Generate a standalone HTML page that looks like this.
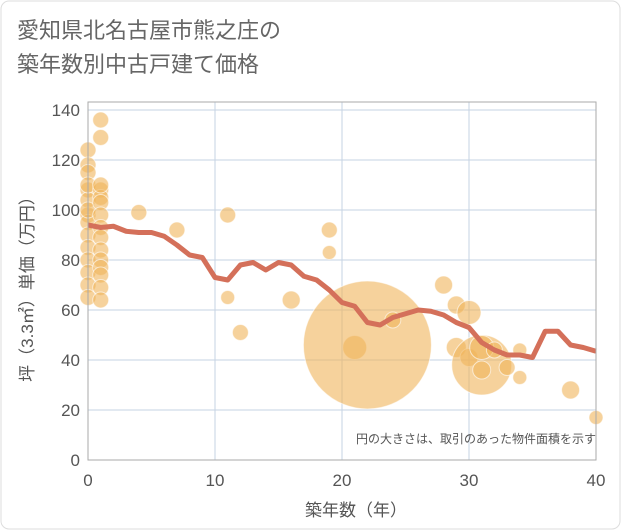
<!DOCTYPE html>
<html><head><meta charset="utf-8">
<style>
body{margin:0;background:#fff;}
#wrap{position:relative;width:621px;height:530px;font-family:"Liberation Sans","Noto Sans CJK JP",sans-serif;}
#title{position:absolute;left:17px;top:14px;font-size:22px;line-height:34px;color:#666;}
svg{position:absolute;left:0;top:0;}
</style></head><body>
<div id="wrap">
<svg width="621" height="530" id="chart">
<rect x="1" y="1" width="619" height="528" rx="8" fill="#fff" stroke="#ddd"/>
<g id="grid"></g>
<g id="bubbles"></g>
<g id="line"></g>
<g id="axes"></g>
<text x="596" y="443" text-anchor="end" font-size="12" fill="#555">円の大きさは、取引のあった物件面積を示す</text>
<text x="356" y="516" text-anchor="middle" font-size="17" fill="#555">築年数（年）</text>
<text transform="translate(33,285) rotate(-90)" text-anchor="middle" font-size="17" fill="#555">坪（3.3㎡）単価（万円）</text>
</svg>
<div id="title">愛知県北名古屋市熊之庄の<br>築年数別中古戸建て価格</div>
</div>
<script>
const xTicks=[0,10,20,30,40];
const yTicks=[0,20,40,60,80,100,120,140];
const lineYears=[0,1,2,3,4,5,6,7,8,9,10,11,12,13,14,15,16,17,18,19,20,21,22,23,24,25,26,27,28,29,30,31,32,33,34,35,36,37,38,39,40];
const lineValues=[94,93,93.5,91.5,91,91,89.5,86,82,81,73,72,78,79,76,79,78,73.5,72,68,63,61.5,55,54,57,58.5,60,59.5,58,55,53,47,44,42,42,41,51.5,51.5,46,45,43.5];
const bubbleYears=[0,0,0,0,0,0,0,0,0,0,0,0,0,0,0,1,1,1,1,1,1,1,1,1,1,1,1,1,1,1,4,7,11,11,12,16,19,19,21,22,24,28,29,29,30,30,31,31,31,32,33,34,34,38,40];
const bubblePrices=[124,118,115,108,104,98,95,90,85,80,75,70,65,100,110,136,129,108,105,103,98,93,89,84,80,77,74,69,64,110,99,92,98,65,51,64,92,83,45,46,56,70,62,45,59,41,38,45,36,44,37,44,33,28,17];
const bubbleSizes=[8,8,8,8,8,8,8,8,8,8,8,8,8,8,8,8,8,8,8,8,8,8,8,8,8,8,8,8,8,8,8,8,8,7,8,9,8,7,12,64,8,9,9,10,12,9,30,12,9,8,8,7,7,9,7];
const X0=88,X1=596,Y0=460,Y1=110;
const xs=v=>X0+(v-0)/40*(X1-X0);
const ys=v=>Y0-(v-0)/140*(Y0-Y1);
const NS='http://www.w3.org/2000/svg';
function mk(t,p){const e=document.createElementNS(NS,t);for(const k in p)e.setAttribute(k,p[k]);p&&p._&&0;return e;}
const grid=document.getElementById('grid'),axes=document.getElementById('axes');
for(const t of xTicks){
 const l=mk('line',{x1:xs(t),x2:xs(t),y1:Y1-8,y2:Y0,stroke:'#c5d3e3','stroke-width':1});
 
 
 grid.appendChild(l);
 const tx=mk('text',{x:xs(t),y:Y0+26,'text-anchor':'middle','font-size':17,fill:'#555'});
 tx.textContent=t;
 
 
 axes.appendChild(tx);
}
for(const t of yTicks){
 const l=mk('line',{x1:X0,x2:X1,y1:ys(t),y2:ys(t),stroke:'#c5d3e3','stroke-width':1});
 
 
 grid.appendChild(l);
 const tx=mk('text',{x:X0-8,y:ys(t)+6,'text-anchor':'end','font-size':17,fill:'#555'});
 tx.textContent=t;
 
 
 axes.appendChild(tx);
}
const frame=mk('rect',{x:X0,y:Y1-8,width:X1-X0,height:Y0-Y1+8,fill:'none',stroke:'#aaa'});


axes.appendChild(frame);
const bg=document.getElementById('bubbles');
bubbleYears.forEach((yr,i)=>{
 const c=mk('circle',{cx:xs(yr),cy:ys(bubblePrices[i]),r:bubbleSizes[i],fill:'rgba(240,180,90,0.6)',stroke:'rgba(255,255,255,0.6)','stroke-width':1});
 
 
 bg.appendChild(c);
});
const pts=lineYears.map((y,i)=>xs(y)+','+ys(lineValues[i])).join(' ');
const pl=mk('polyline',{points:pts,fill:'none',stroke:'#d4705a','stroke-width':5,'stroke-linejoin':'round'});


document.getElementById('line').appendChild(pl);
</script>
</body></html>
